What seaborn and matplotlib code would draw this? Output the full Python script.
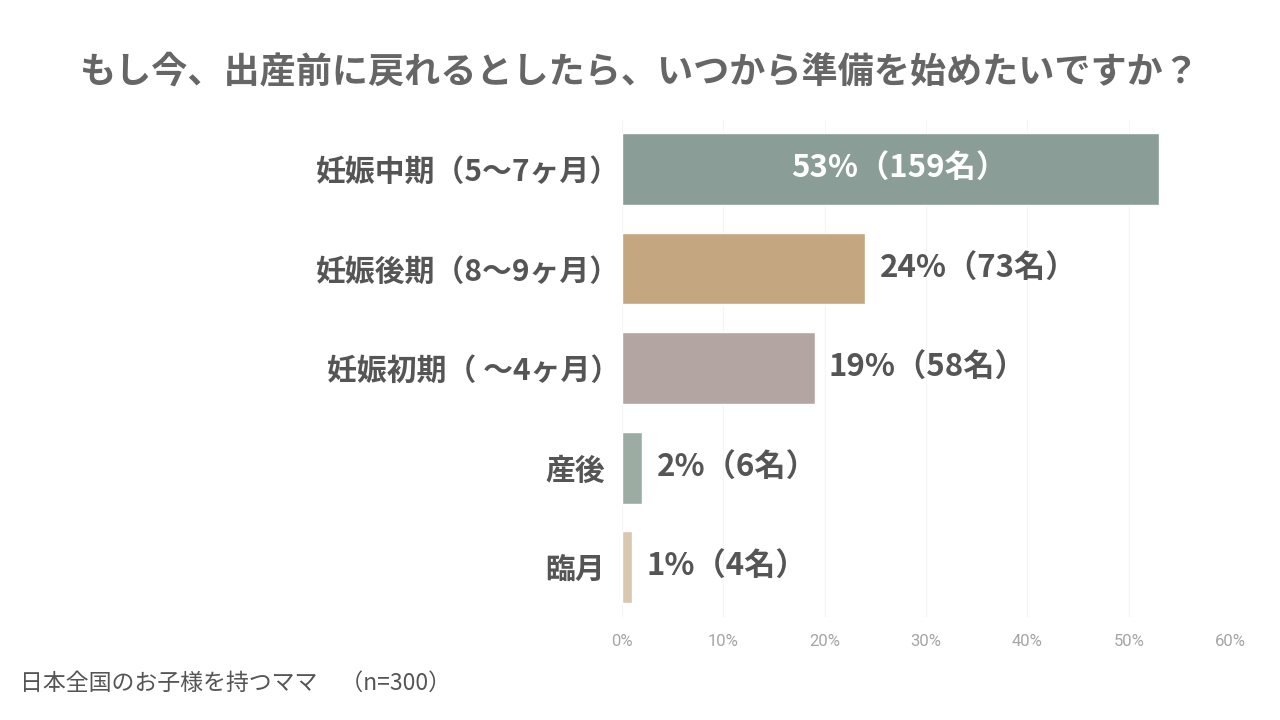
import matplotlib
matplotlib.use("Agg")
import matplotlib.pyplot as plt
import matplotlib.transforms as mtransforms
import numpy as np
import pandas as pd
import seaborn as sns

#%% data
categories = ["妊娠中期（5〜7ヶ月）", "妊娠後期（8〜9ヶ月）", "妊娠初期（ 〜4ヶ月）", "産後", "臨月"]
percent = [53, 24, 19, 2, 1]
counts = [159, 73, 58, 6, 4]
bar_colors = ["#8A9D97", "#C4A680", "#B3A6A2", "#9BADA3", "#D9C7AF"]
xticks = [0, 10, 20, 30, 40, 50, 60]

df = pd.DataFrame({"cat": categories, "pct": percent, "n": counts})

#%% plot
sns.set_style("white")
plt.rcParams['font.family'] = ['Noto Sans CJK JP', 'DejaVu Sans']

fig = plt.figure(figsize=(12.8, 7.2), dpi=100)
ax = fig.add_axes([0.486, 0.143, 0.475, 0.69])

sns.barplot(data=df, x="pct", y="cat", hue="cat", palette=bar_colors,
            width=0.72, legend=False, ax=ax, saturation=1)

ax.set_xlim(0, 60)
ax.set_xticks(xticks)
ax.set_xticklabels([f"{t}%" for t in xticks], color="#a5a5a5", fontsize=12,
                   family=["Roboto", "DejaVu Sans"])
ax.set_ylim(4.5, -0.49)
ax.set_xlabel("")
ax.set_ylabel("")
ax.tick_params(axis="y", length=0, pad=12)
ax.tick_params(axis="x", length=0, pad=12)
# full-width closing paren carries right side bearing -> nudge those labels right
nudge = mtransforms.ScaledTranslation(15 / 100, 0, fig.dpi_scale_trans)
for lab in ax.get_yticklabels():
    lab.set_fontsize(21.5)
    lab.set_fontweight("bold")
    lab.set_color("#555555")
    if lab.get_text().endswith("）"):
        lab.set_transform(lab.get_transform() + nudge)

ax.grid(axis="x", color="#f5f5f5", linewidth=0.8)
ax.set_axisbelow(True)
for s in ax.spines.values():
    s.set_visible(False)
ax.axhline(4.5, color="#f2f2f2", linewidth=0.8)

for i, (p, n) in enumerate(zip(percent, counts)):
    label = f"{p}%（{n}名）"
    if p > 40:
        ax.text(p / 2 + 0.8, i, label, ha="center", va="center", color="white",
                fontsize=22.5, fontweight="bold")
    else:
        ax.text(p + 1.4, i, label, ha="left", va="center", color="#555555",
                fontsize=22.5, fontweight="bold")

fig.text(0.5, 0.9, "もし今、出産前に戻れるとしたら、いつから準備を始めたいですか？",
         ha="center", va="center", fontsize=26, fontweight="bold", color="#666666")
fig.text(0.016, 0.051, "日本全国のお子様を持つママ　（n=300）",
         ha="left", va="center", fontsize=16.5, color="#555555")

fig.savefig("out.png", dpi=100)
